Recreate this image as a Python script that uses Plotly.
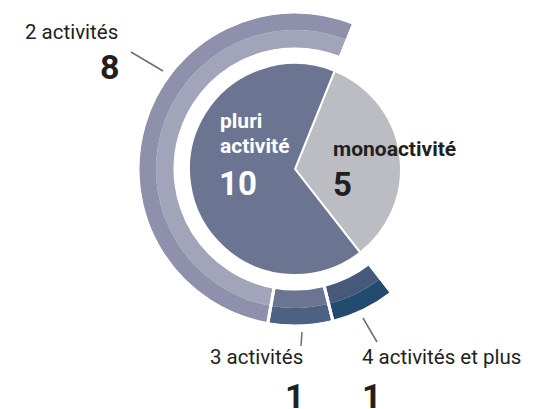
import plotly.graph_objects as go

# Overall split
split_labels = ["monoactivité", "pluri activité"]
split_values = [5, 10]
split_colors = ["#bcbdc2", "#6b7592"]

# Breakdown of the "pluri activité" group (outer ring)
ring_labels = ["4 activités et plus", "3 activités", "2 activités"]
ring_values = [1, 1, 8]
ring_inner_colors = ["#47597a", "#6b7591", "#a2a4ba"]
ring_outer_colors = ["#224b6f", "#4f6183", "#8f90ab"]

W, H = 536, 409
CX, CY = 295, 169          # centre of the chart, px
R_PIE, R_IN, R_MID, R_OUT = 106, 121, 139, 156
START = 22                 # angle (deg, clockwise from 12 o'clock) of the first slice


def dom(r):
    return dict(x=[(CX - r) / W, (CX + r) / W],
                y=[(H - CY - r) / H, (H - CY + r) / H])


def px(x, y):
    return x / W, 1 - y / H


fig = go.Figure()

# inner pie
fig.add_trace(go.Pie(
    values=split_values, labels=split_labels, sort=False, direction="clockwise",
    rotation=START, domain=dom(R_PIE), textinfo="none", hoverinfo="label+value",
    marker=dict(colors=split_colors, line=dict(color="white", width=2)),
    showlegend=False,
))

# outer ring: blank part over the "monoactivité" angle, then the breakdown
ring_vals = [split_values[0]] + ring_values
blank = "rgba(0,0,0,0)"
for r_outer, r_inner, cols in [(R_MID, R_IN, ring_inner_colors),
                               (R_OUT, R_MID, ring_outer_colors)]:
    fig.add_trace(go.Pie(
        values=ring_vals, labels=["blank"] + ring_labels, sort=False,
        direction="clockwise", rotation=START, domain=dom(r_outer),
        hole=r_inner / r_outer, textinfo="none", hoverinfo="skip",
        marker=dict(colors=[blank] + cols, line=dict(width=0)),
        showlegend=False,
    ))

# white separators between ring segments
fig.add_trace(go.Pie(
    values=ring_vals, labels=["blank"] + ring_labels, sort=False,
    direction="clockwise", rotation=START, domain=dom(R_OUT + 1),
    hole=(R_IN - 1) / (R_OUT + 1), textinfo="none", hoverinfo="skip",
    marker=dict(colors=[blank] * 4, line=dict(color="white", width=3)),
    showlegend=False,
))

FONT = "Roboto"
DARK = "#231f20"
ann = []


def text(x, y, s, size, color=DARK, bold=False, anchor="left"):
    xx, yy = px(x, y)
    ann.append(dict(x=xx, y=yy, xref="paper", yref="paper", text=s, showarrow=False,
                    xanchor=anchor, yanchor="middle",
                    font=dict(family=FONT, size=size, color=color,
                              weight="bold" if bold else "normal")))


# inner labels
text(218, 121, "pluri", 21, "white", True)
text(218, 146, "activité", 21, "white", True)
text(217, 183, str(split_values[1]), 33, "white", True)
text(331, 149, split_labels[0], 21, DARK, True)
text(331, 184, str(split_values[0]), 33, DARK, True)

# outer labels
text(120, 32, ring_labels[2], 20.5, DARK, anchor="right")
text(122, 67, str(ring_values[2]), 34, DARK, True, anchor="right")
text(305, 357, ring_labels[1], 20.5, DARK, anchor="right")
text(307, 396, str(ring_values[1]), 34, DARK, True, anchor="right")
text(360, 357, ring_labels[0], 20.5, DARK)
text(360, 396, str(ring_values[0]), 34, DARK, True)

shapes = []
for (x0, y0, x1, y1) in [(131, 52, 163, 71), (302, 332, 301, 346), (363, 318, 377, 342)]:
    a0, b0 = px(x0, y0)
    a1, b1 = px(x1, y1)
    shapes.append(dict(type="line", xref="paper", yref="paper", x0=a0, y0=b0, x1=a1, y1=b1,
                       line=dict(color="#7a6a62", width=1.5)))

fig.update_layout(
    width=W, height=H, margin=dict(l=0, r=0, t=0, b=0),
    paper_bgcolor="white", plot_bgcolor="white",
    annotations=ann, shapes=shapes,
)

fig.write_html("out.html")
